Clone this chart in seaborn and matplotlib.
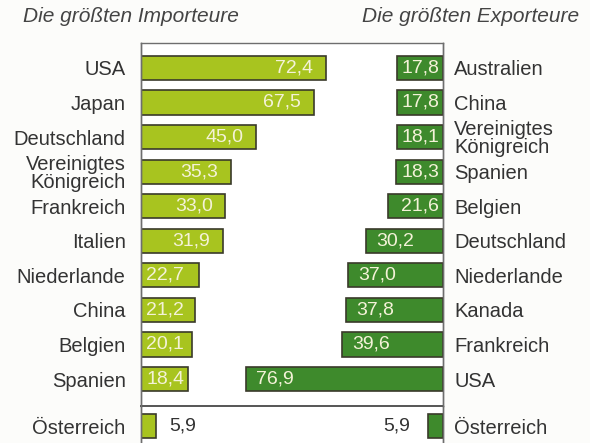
#!/usr/bin/env python3
# -*- coding: utf-8 -*-

'''
Die größten Importeure / Exporteure - mirrored horizontal bars.
'''

import seaborn as sns
import matplotlib.pyplot as plt

sns.set_style("white")
plt.rcParams['font.family'] = ['Liberation Sans', 'DejaVu Sans']

# Data
imp_countries = ["USA", "Japan", "Deutschland", "Vereinigtes\nKönigreich",
                 "Frankreich", "Italien", "Niederlande", "China", "Belgien",
                 "Spanien"]
imp_values = [72.4, 67.5, 45.0, 35.3, 33.0, 31.9, 22.7, 21.2, 20.1, 18.4]
exp_countries = ["Australien", "China", "Vereinigtes\nKönigreich", "Spanien",
                 "Belgien", "Deutschland", "Niederlande", "Kanada",
                 "Frankreich", "USA"]
exp_values = [17.8, 17.8, 18.1, 18.3, 21.6, 30.2, 37.0, 37.8, 39.6, 76.9]
home_country = ["Österreich"]
home_import = [5.9]
home_export = [5.9]

light_green = "#a8c41f"
dark_green = "#3e8a2c"
edge = "#3a3a2a"
text_col = "#333333"
label_col = "#f4f2d8"
spine_col = "#6e6e6e"

XMAX = 118


def fmt(v):
    return f"{v:.1f}".replace(".", ",")


fig = plt.figure(figsize=(5.9, 4.43), dpi=100)
fig.patch.set_facecolor("#fcfcfa")

rect_top = [141 / 590, 37 / 443, 302 / 590, 363 / 443]
rect_bot = [141 / 590, 0, 302 / 590, 37 / 443]

ax_imp_b = fig.add_axes(rect_bot)
ax_exp_b = fig.add_axes(rect_bot)
ax_imp = fig.add_axes(rect_top)
ax_exp = fig.add_axes(rect_top)

# Draw bars
sns.barplot(x=imp_values, y=imp_countries, orient="h", color=light_green,
            edgecolor=edge, linewidth=1.2, width=0.7, saturation=1, ax=ax_imp)
sns.barplot(x=exp_values, y=exp_countries, orient="h", color=dark_green,
            edgecolor=edge, linewidth=1.2, width=0.7, saturation=1, ax=ax_exp)
sns.barplot(x=home_import, y=home_country, orient="h", color=light_green,
            edgecolor=edge, linewidth=1.2, width=0.7, saturation=1, ax=ax_imp_b)
sns.barplot(x=home_export, y=home_country, orient="h", color=dark_green,
            edgecolor=edge, linewidth=1.2, width=0.7, saturation=1, ax=ax_exp_b)

for ax in (ax_imp, ax_exp):
    ax.set_ylim(9.78, -0.72)
for ax in (ax_imp_b, ax_exp_b):
    ax.set_ylim(0.49, -0.58)
for ax in (ax_imp, ax_imp_b):
    ax.set_xlim(0, XMAX)
    ax.set_facecolor("white")
for ax in (ax_exp, ax_exp_b):
    ax.set_xlim(XMAX, 0)
    ax.patch.set_alpha(0)
    ax.yaxis.tick_right()
    ax.yaxis.set_label_position("right")

for ax in (ax_imp, ax_exp, ax_imp_b, ax_exp_b):
    ax.set_xlabel("")
    ax.set_ylabel("")
    ax.set_xticks([])
    ax.tick_params(axis="y", length=0, labelsize=14.5, colors=text_col)
    for s in ax.spines.values():
        s.set_color(spine_col)
        s.set_linewidth(1.0)
        s.set_visible(False)
    ax.spines["left"].set_visible(True)
    ax.spines["right"].set_visible(True)

ax_imp.tick_params(axis="y", pad=11)
ax_imp_b.tick_params(axis="y", pad=11)
ax_exp.tick_params(axis="y", pad=8, labelright=True, labelleft=False)
ax_exp_b.tick_params(axis="y", pad=8, labelright=True, labelleft=False)
for ax in (ax_imp, ax_exp):
    for t in ax.get_yticklabels():
        t.set_linespacing(0.95)
ax_imp.spines["top"].set_visible(True)
ax_imp.spines["bottom"].set_visible(True)
ax_imp.spines["bottom"].set_linewidth(1.4)
ax_imp.spines["bottom"].set_color("#555555")

# Value labels inside bars
TW = 16
for i, v in enumerate(imp_values):
    if v - 5 - TW >= 2:
        ax_imp.text(v - 5, i, fmt(v), ha="right", va="center",
                    fontsize=14, color=label_col)
    else:
        ax_imp.text(2, i, fmt(v), ha="left", va="center",
                    fontsize=14, color=label_col)
for i, v in enumerate(exp_values):
    if v - 4 - TW >= 2:
        ax_exp.text(v - 4, i, fmt(v), ha="left", va="center",
                    fontsize=14, color=label_col)
    else:
        ax_exp.text(1.5, i, fmt(v), ha="right", va="center",
                    fontsize=14, color=label_col)

# Österreich labels outside bars
ax_imp_b.text(home_import[0] + 5, 0, fmt(home_import[0]), ha="left",
              va="center", fontsize=14, color=text_col)
ax_exp_b.text(home_export[0] + 7, 0, fmt(home_export[0]), ha="right",
              va="center", fontsize=14, color=text_col)

# Titles
fig.text(23 / 590, 1 - 16 / 443, "Die größten Importeure", ha="left",
         va="center", style="italic", fontsize=15, color="#444444")
fig.text(579 / 590, 1 - 16 / 443, "Die größten Exporteure", ha="right",
         va="center", style="italic", fontsize=15, color="#444444")

fig.savefig("out.png", dpi=100, facecolor=fig.get_facecolor())
